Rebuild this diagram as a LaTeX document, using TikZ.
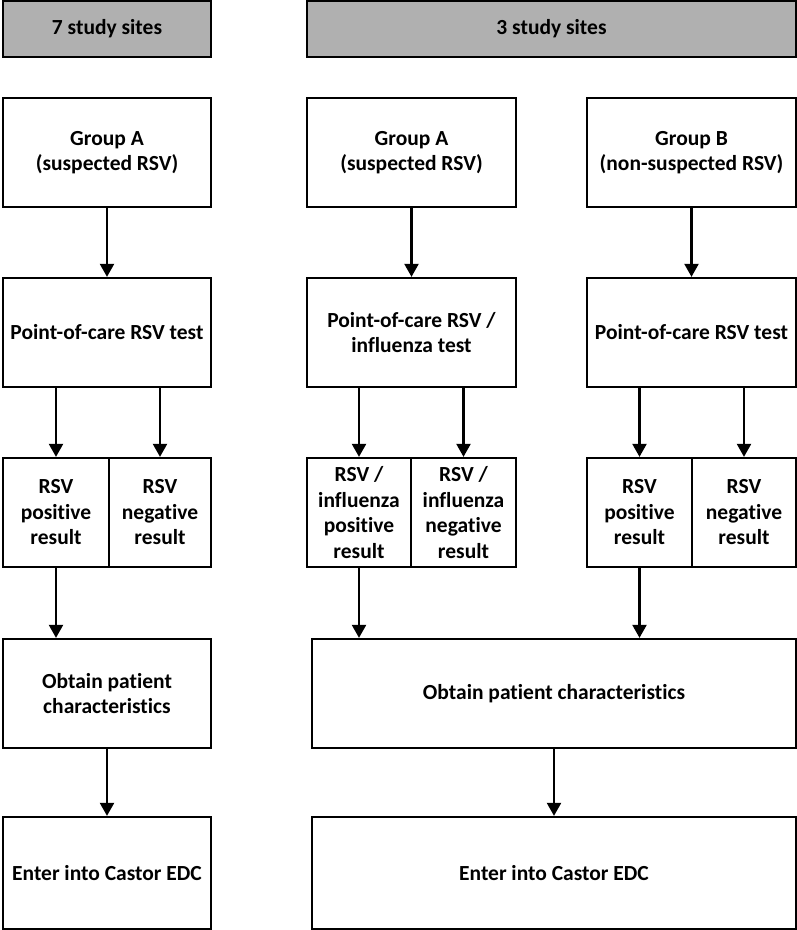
\documentclass[tikz,border=0pt]{standalone}
\usepackage{fontspec}
\setmainfont{Carlito}[Ligatures=NoCommon]
\usetikzlibrary{arrows.meta}
\definecolor{headgray}{RGB}{176,176,176}
\begin{document}
\begin{tikzpicture}[x=1pt,y=-1pt,
  box/.style={draw=black, line width=2.3pt, rectangle, inner sep=0pt, align=center,
    font=\fontsize{21.5}{25.5}\selectfont\bfseries, text=black},
  head/.style={box, fill=headgray},
  arr/.style={line width=2.3pt, -{Triangle[width=14pt,length=13pt]}}]
\useasboundingbox (0,0) rectangle (797,930);
% headers
\node[head, minimum width=208pt, minimum height=56pt] (H1) at (107,29) {7 study sites};
\node[head, minimum width=489pt, minimum height=56pt] (H2) at (551.5,29) {3 study sites};
% groups
\node[box, minimum width=208pt, minimum height=109pt] (A1) at (107,152.5) {Group A\\(suspected RSV)};
\node[box, minimum width=209pt, minimum height=109pt] (A2) at (411.5,152.5) {Group A\\(suspected RSV)};
\node[box, minimum width=209pt, minimum height=109pt] (B) at (691.5,152.5) {Group B\\(non-suspected RSV)};
% point of care
\node[box, minimum width=208pt, minimum height=109pt] (P1) at (107,332.5) {Point-of-care RSV test};
\node[box, minimum width=209pt, minimum height=109pt] (P2) at (411.5,332.5) {Point-of-care RSV /\\influenza test};
\node[box, minimum width=209pt, minimum height=109pt] (P3) at (691.5,332.5) {Point-of-care RSV test};
% results
\node[box, minimum width=106pt, minimum height=109pt] (R1a) at (56,512.5) {RSV\\positive\\result};
\node[box, minimum width=102pt, minimum height=109pt] (R1b) at (160,512.5) {RSV\\negative\\result};
\node[box, minimum width=104pt, minimum height=109pt] (R2a) at (359,512.5) {RSV /\\influenza\\positive\\result};
\node[box, minimum width=105pt, minimum height=109pt] (R2b) at (463.5,512.5) {RSV /\\influenza\\negative\\result};
\node[box, minimum width=105pt, minimum height=109pt] (R3a) at (639.5,512.5) {RSV\\positive\\result};
\node[box, minimum width=104pt, minimum height=109pt] (R3b) at (744,512.5) {RSV\\negative\\result};
% obtain
\node[box, minimum width=208pt, minimum height=109pt] (O1) at (107,693.5) {Obtain patient\\characteristics};
\node[box, minimum width=484pt, minimum height=109pt] (O2) at (554,693.5) {Obtain patient characteristics};
% castor
\node[box, minimum width=208pt, minimum height=112pt] (C1) at (107,873) {Enter into Castor EDC};
\node[box, minimum width=484pt, minimum height=112pt] (C2) at (554,873) {Enter into Castor EDC};
% arrows
\draw[arr] (A1.south) -- (P1.north);
\draw[arr] (A2.south) -- (P2.north);
\draw[arr] (B.south) -- (P3.north);
\draw[arr] (R1a.north |- P1.south) -- (R1a.north);
\draw[arr] (R1b.north |- P1.south) -- (R1b.north);
\draw[arr] (R2a.north |- P2.south) -- (R2a.north);
\draw[arr] (R2b.north |- P2.south) -- (R2b.north);
\draw[arr] (R3a.north |- P3.south) -- (R3a.north);
\draw[arr] (R3b.north |- P3.south) -- (R3b.north);
\draw[arr] (R1a.south) -- (R1a.south |- O1.north);
\draw[arr] (R2a.south) -- (R2a.south |- O2.north);
\draw[arr] (R3a.south) -- (R3a.south |- O2.north);
\draw[arr] (O1.south) -- (C1.north);
\draw[arr] (O2.south) -- (C2.north);
\end{tikzpicture}
\end{document}
